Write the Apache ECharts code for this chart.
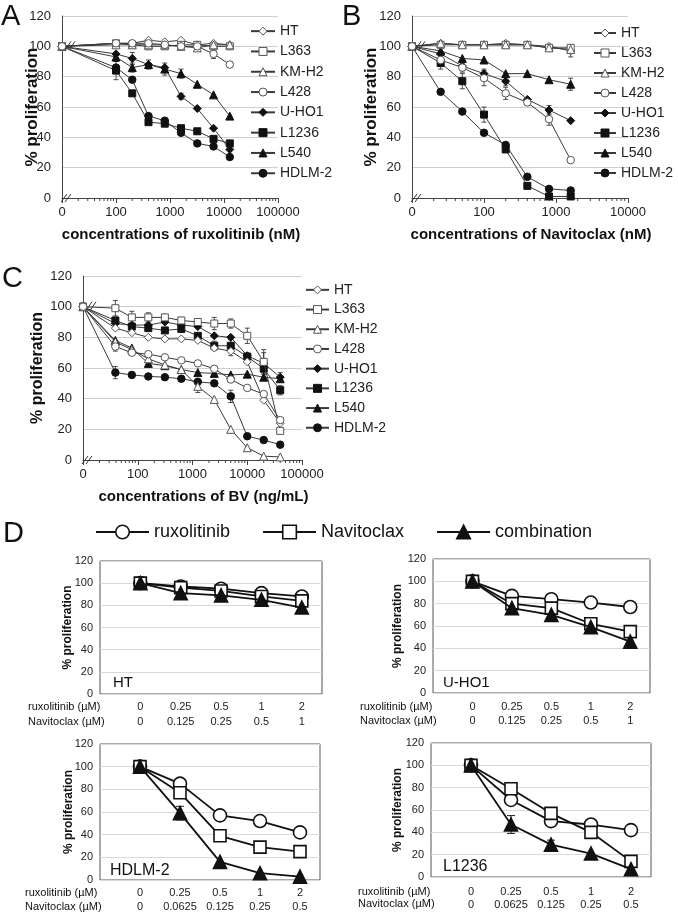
<!DOCTYPE html>
<html><head><meta charset="utf-8">
<script src="https://cdn.jsdelivr.net/npm/echarts@6/dist/echarts.min.js"></script>
<style>html,body{margin:0;padding:0;background:#fff}#c{width:678px;height:915px}</style>
</head><body><div id="c"></div>
<script>
// ---------- DATA ----------
const cellLines = ['HT','L363','KM-H2','L428','U-HO1','L1236','L540','HDLM-2'];
const tickLabelsLog = ['0','100','1000','10000','100000'];

// Panel A: ruxolitinib (nM)
const concA = [0, 100, 200, 400, 800, 1600, 3200, 6400, 12800];
const A_HT    = [100, 102, 102, 104, 103, 104, 101, 102, 101];
const A_L363  = [100, 102, 101, 100, 100, 101, 101, 100, 100];
const A_KMH2  = [100, 101, 101, 101, 101, 100, 99, 101, 101];
const A_L428  = [100, 102, 102, 102, 101, 100, 100, 95, 88];
const A_UHO1  = [100, 95, 92, 88, 86, 67, 59, 46, 32];
const A_L1236 = [100, 84, 69, 50, 49, 46, 44, 39, 36];
const A_L540  = [100, 93, 86, 88, 85, 82, 75, 68, 54];
const A_HDLM2 = [100, 86, 78, 54, 51, 43, 36, 34, 27];
const errA_L428  = [0, 0, 0, 0, 0, 0, 0, 3, 2];
const errA_UHO1  = [0, 0, 4, 0, 0, 2, 0, 0, 0];
const errA_L1236 = [0, 6, 0, 0, 0, 0, 0, 0, 0];
const errA_L540  = [0, 3, 3, 3, 4, 3, 0, 0, 0];

// Panel B: Navitoclax (nM)
const concB = [0, 25, 50, 100, 200, 400, 800, 1600];
const B_HT    = [100, 102, 101, 101, 102, 101, 100, 97];
const B_L363  = [100, 101, 101, 101, 101, 101, 99, 99];
const B_KMH2  = [100, 102, 101, 101, 101, 101, 99, 98];
const B_L428  = [100, 91, 86, 79, 69, 63, 52, 25];
const B_UHO1  = [100, 95, 87, 82, 77, 65, 58, 51];
const B_L1236 = [100, 89, 77, 55, 32, 8, 1, 1];
const B_L540  = [100, 97, 92, 91, 82, 82, 78, 75];
const B_HDLM2 = [100, 70, 57, 43, 35, 14, 6, 5];
const errB_HT    = [0, 0, 0, 0, 0, 0, 0, 4];
const errB_L428  = [0, 3, 3, 5, 4, 0, 4, 0];
const errB_UHO1  = [0, 0, 0, 3, 3, 0, 3, 0];
const errB_L1236 = [0, 4, 5, 5, 0, 0, 0, 0];
const errB_L540  = [0, 0, 0, 0, 0, 0, 0, 4];
const errB_HDLM2 = [0, 0, 2, 0, 0, 0, 0, 0];

// Panel C: BV (ng/mL)
const concC = [0, 39, 78, 156, 313, 625, 1250, 2500, 5000, 10000, 20000, 40000];
const C_HT    = [100, 86, 83, 80, 79, 79, 78, 73, 71, 64, 39, 24];
const C_L363  = [100, 99, 93, 93, 93, 91, 90, 89, 89, 81, 64, 19];
const C_KMH2  = [100, 77, 72, 66, 62, 59, 48, 39.5, 20, 8, 2.5, 2];
const C_L428  = [100, 74, 70, 69, 67, 65, 63, 59.5, 52.5, 47, 43, 26];
const C_UHO1  = [100, 89, 88, 88, 90, 88, 87, 81, 80, 68, 63, 54];
const C_L1236 = [100, 91, 87, 86, 84.5, 85.5, 81, 74.5, 74.5, 67.5, 59.5, 45.5];
const C_L540  = [100, 78, 73, 63, 61.5, 59, 57, 56.5, 55.5, 56, 54, 53];
const C_HDLM2 = [100, 57, 55.5, 54.5, 54, 53, 51, 50, 41.5, 15.5, 13, 10];
const errC_HT    = [0, 0, 0, 0, 0, 0, 0, 0, 3, 0, 0, 0];
const errC_L363  = [0, 5, 4, 3, 2, 2, 2, 4, 3, 5, 8, 0];
const errC_KMH2  = [0, 0, 0, 0, 0, 0, 4, 0, 0, 0, 0, 0];
const errC_L428  = [0, 3, 0, 0, 0, 0, 0, 0, 0, 0, 0, 0];
const errC_UHO1  = [0, 0, 5, 0, 0, 0, 0, 0, 0, 0, 7, 3];
const errC_L1236 = [0, 0, 0, 0, 0, 0, 0, 3, 4, 0, 0, 3];
const errC_HDLM2 = [0, 4, 0, 0, 0, 0, 0, 0, 4, 0, 0, 0];

// Panel D
const dTreatments = ['ruxolitinib', 'Navitoclax', 'combination'];
const dRux   = ['0', '0.25', '0.5', '1', '2'];
const dNavi1 = ['0', '0.125', '0.25', '0.5', '1'];
const dNavi2 = ['0', '0.0625', '0.125', '0.25', '0.5'];
const HT_rux    = [100, 97, 95, 91, 88];
const HT_navi   = [100, 96, 93, 88, 84];
const HT_comb   = [100, 91, 89, 85, 78];
const UHO1_rux  = [100, 87, 84, 81, 77];
const UHO1_navi = [100, 80, 76, 62, 55];
const UHO1_comb = [100, 76, 70, 59, 46];
const HDLM2_rux  = [100, 85, 57, 52, 42];
const HDLM2_navi = [100, 77, 39, 29, 25];
const HDLM2_comb = [100, 59, 16, 6, 3];
const L1236_rux  = [100, 69, 50, 47, 42];
const L1236_navi = [100, 79, 57, 40, 14];
const L1236_comb = [100, 47, 29, 21, 7];
const errHDLM2_rux  = [0, 0, 0, 0, 4];
const errHDLM2_navi = [0, 0, 0, 0, 4];
const errHDLM2_comb = [0, 6, 0, 0, 0];
const errL1236_comb = [0, 8, 4, 0, 0];

// ---------- BUILD ----------
const FONT = '"Liberation Sans", Arial, sans-serif';
const LOG_ZERO = 10; // axis origin used for the "0" concentration
const STYLE = {
  'HT':     {symbol: 'diamond',  open: true,  size: 8},
  'L363':   {symbol: 'rect',     open: true,  size: 7},
  'KM-H2':  {symbol: 'triangle', open: true,  size: 8},
  'L428':   {symbol: 'circle',   open: true,  size: 7.5},
  'U-HO1':  {symbol: 'diamond',  open: false, size: 8},
  'L1236':  {symbol: 'rect',     open: false, size: 7},
  'L540':   {symbol: 'triangle', open: false, size: 8},
  'HDLM-2': {symbol: 'circle',   open: false, size: 7.5}
};
const panelA = [A_HT, A_L363, A_KMH2, A_L428, A_UHO1, A_L1236, A_L540, A_HDLM2];
const panelB = [B_HT, B_L363, B_KMH2, B_L428, B_UHO1, B_L1236, B_L540, B_HDLM2];
const panelC = [C_HT, C_L363, C_KMH2, C_L428, C_UHO1, C_L1236, C_L540, C_HDLM2];
const errsA = {'L428': errA_L428, 'U-HO1': errA_UHO1, 'L1236': errA_L1236, 'L540': errA_L540};
const errsB = {'HT': errB_HT, 'L428': errB_L428, 'U-HO1': errB_UHO1, 'L1236': errB_L1236, 'L540': errB_L540, 'HDLM-2': errB_HDLM2};
const errsC = {'HT': errC_HT, 'L363': errC_L363, 'KM-H2': errC_KMH2, 'L428': errC_L428, 'U-HO1': errC_UHO1, 'L1236': errC_L1236, 'HDLM-2': errC_HDLM2};

function errSeries(gi, xs, vals, errs, capW, lw) {
  const data = [];
  xs.forEach((x, i) => { if (errs[i]) data.push([x, vals[i], errs[i]]); });
  return {
    type: 'custom', xAxisIndex: gi, yAxisIndex: gi, data, z: 1, silent: true, animation: false,
    encode: {x: 0, y: 1},
    renderItem(params, api) {
      const x = api.value(0), y = api.value(1), e = api.value(2);
      const p1 = api.coord([x, y + e]), p2 = api.coord([x, y - e]);
      const st = {stroke: '#222', lineWidth: lw};
      return {type: 'group', children: [
        {type: 'line', shape: {x1: p1[0], y1: p1[1], x2: p2[0], y2: p2[1]}, style: st},
        {type: 'line', shape: {x1: p1[0] - capW, y1: p1[1], x2: p1[0] + capW, y2: p1[1]}, style: st},
        {type: 'line', shape: {x1: p2[0] - capW, y1: p2[1], x2: p2[0] + capW, y2: p2[1]}, style: st}
      ]};
    }
  };
}

const series = [];
function addCellPanel(gi, conc, values, errs) {
  const xs = conc.map(c => c === 0 ? LOG_ZERO : c);
  cellLines.forEach((name, k) => {
    const st = STYLE[name];
    if (errs[name]) series.push(errSeries(gi, xs, values[k], errs[name], 2.5, 0.8));
    series.push({
      type: 'line', name, xAxisIndex: gi, yAxisIndex: gi, animation: false,
      data: xs.map((x, i) => [x, values[k][i]]),
      symbol: st.symbol, symbolSize: st.size, showSymbol: true,
      lineStyle: {color: '#3a3a3a', width: 1},
      itemStyle: {color: st.open ? '#fff' : '#111', borderColor: st.open ? '#555' : '#111', borderWidth: 1},
      z: st.open ? 4 : 3
    });
  });
}
addCellPanel(0, concA, panelA, errsA);
addCellPanel(1, concB, panelB, errsB);
addCellPanel(2, concC, panelC, errsC);

const DSTYLE = [
  {symbol: 'circle', open: true, size: 13},
  {symbol: 'rect', open: true, size: 12},
  {symbol: 'triangle', open: false, size: 13}
];
const dPanels = [
  {vals: [HT_rux, HT_navi, HT_comb], errs: [null, null, null]},
  {vals: [UHO1_rux, UHO1_navi, UHO1_comb], errs: [null, null, null]},
  {vals: [HDLM2_rux, HDLM2_navi, HDLM2_comb], errs: [errHDLM2_rux, errHDLM2_navi, errHDLM2_comb]},
  {vals: [L1236_rux, L1236_navi, L1236_comb], errs: [null, null, errL1236_comb]}
];
dPanels.forEach((p, j) => {
  const gi = 3 + j;
  const xs = dRux.map((_, i) => i);
  dTreatments.forEach((name, k) => {
    const st = DSTYLE[k];
    if (p.errs[k]) series.push(errSeries(gi, xs, p.vals[k], p.errs[k], 4, 1));
    series.push({
      type: 'line', name, xAxisIndex: gi, yAxisIndex: gi, animation: false,
      data: xs.map(i => [i, p.vals[k][i]]),
      symbol: st.symbol, symbolSize: st.size, showSymbol: true,
      lineStyle: {color: '#111', width: 1.8},
      itemStyle: {color: st.open ? '#fff' : '#111', borderColor: '#111', borderWidth: 1.6},
      z: 3 + k
    });
  });
});

const grids = [
  {left: 62, top: 16, width: 216, height: 182},
  {left: 412, top: 16, width: 216, height: 182},
  {left: 83, top: 276, width: 219, height: 184},
  {left: 100, top: 561, width: 222, height: 133, show: true, borderColor: '#555', borderWidth: 1},
  {left: 433, top: 559, width: 217, height: 134, show: true, borderColor: '#555', borderWidth: 1},
  {left: 100, top: 744, width: 220, height: 136, show: true, borderColor: '#555', borderWidth: 1},
  {left: 431, top: 743, width: 220, height: 134, show: true, borderColor: '#555', borderWidth: 1}
].map(g => Object.assign({containLabel: false, outerBoundsMode: 'none'}, g));

const xTitles = ['concentrations of ruxolitinib (nM)', 'concentrations of Navitoclax (nM)', 'concentrations of BV (ng/mL)'];
const logMax = [100000, 10000, 100000];
const xAxes = [];
const yAxes = [];
const yNameGap = [21.5, 32.5, 37];
for (let gi = 0; gi < 3; gi++) {
  xAxes.push({
    type: 'log', gridIndex: gi, logBase: 10, min: LOG_ZERO, max: logMax[gi],
    axisLine: {show: true, lineStyle: {color: '#444', width: 1}},
    axisTick: {show: true, length: 5, lineStyle: {color: '#444'}},
    splitLine: {show: false},
    axisLabel: {fontSize: 13, color: '#222', fontFamily: FONT, margin: 8,
      formatter: v => Math.round(v) <= LOG_ZERO ? tickLabelsLog[0] : String(Math.round(v))},
    name: xTitles[gi], nameLocation: 'middle', nameGap: 29, nameMoveOverlap: false,
    nameTextStyle: {fontSize: 15, fontWeight: 'bold', color: '#111', fontFamily: FONT, padding: [0, 0, 0, 22]}
  });
  yAxes.push({
    type: 'value', gridIndex: gi, min: 0, max: 120, interval: 20,
    axisLine: {show: true, lineStyle: {color: '#444', width: 1}},
    axisTick: {show: false},
    splitLine: {lineStyle: {color: '#cfcfcf', width: 1}},
    axisLabel: {fontSize: 13, color: '#222', fontFamily: FONT, margin: 11},
    name: '% proliferation', nameLocation: 'middle', nameGap: yNameGap[gi], nameMoveOverlap: false,
    nameTextStyle: {fontSize: gi === 2 ? 16 : 17, fontWeight: 'bold', color: '#111', fontFamily: FONT}
  });
}
const dNavis = [dNavi1, dNavi1, dNavi2, dNavi2];
const dLabelCfg = [
  {lh: 15, margin: 5}, {lh: 14, margin: 7}, {lh: 14, margin: 6}, {lh: 12.5, margin: 9}
];
const dYGap = [26.5, 29, 25, 27];
for (let j = 0; j < 4; j++) {
  const gi = 3 + j;
  xAxes.push({
    type: 'value', gridIndex: gi, min: -1, max: 4.5,
    axisLine: {show: false}, axisTick: {show: false}, splitLine: {show: false},
    axisLabel: {customValues: [0, 1, 2, 3, 4], fontSize: 11, color: '#222', fontFamily: FONT,
      lineHeight: dLabelCfg[j].lh, margin: dLabelCfg[j].margin,
      formatter: v => dRux[v] + '\n' + dNavis[j][v]}
  });
  yAxes.push({
    type: 'value', gridIndex: gi, min: 0, max: 120, interval: 20,
    axisLine: {show: false}, axisTick: {show: false},
    splitLine: {lineStyle: {color: '#d9d9d9', width: 1}},
    axisLabel: {fontSize: 11, color: '#222', fontFamily: FONT, margin: 7},
    name: '% proliferation', nameLocation: 'middle', nameGap: dYGap[j], nameMoveOverlap: false,
    nameTextStyle: {fontSize: 12, fontWeight: 'bold', color: '#111', fontFamily: FONT}
  });
}

function cellLegend(left, top, itemWidth, lineHeight) {
  return {
    data: cellLines, orient: 'vertical', left, top, itemWidth, itemHeight: 10, itemGap: 0, padding: 0,
    selectedMode: false,
    itemStyle: {borderWidth: 1},
    textStyle: {fontSize: 14, color: '#222', fontFamily: FONT, lineHeight}
  };
}
const legends = [
  cellLegend(250, 21, 24, 20.3),
  cellLegend(593, 23, 22, 20),
  cellLegend(305, 280, 23, 19.7),
  {data: dTreatments, orient: 'horizontal', left: 95, top: 523, itemWidth: 53, itemHeight: 17, itemGap: 32, padding: 0,
   selectedMode: false, itemStyle: {borderWidth: 1.6},
   textStyle: {fontSize: 18, color: '#111', fontFamily: FONT}}
];

const staticGraphics = [];
function txt(x, y, s, size) {
  staticGraphics.push({type: 'text', x, y, silent: true,
    style: {text: s, fontSize: size, fontFamily: FONT, fill: '#111', verticalAlign: 'middle', align: 'left'}});
}
txt(1, 17, 'A', 29); txt(342, 17, 'B', 29); txt(2, 279, 'C', 29); txt(3, 534, 'D', 29);
const dNames = ['HT', 'U-HO1', 'HDLM-2', 'L1236'];
const dNamePos = [[113, 683, 15], [443, 683, 15], [110, 871, 16], [443, 867, 16]];
dNames.forEach((n, j) => txt(dNamePos[j][0], dNamePos[j][1], n, dNamePos[j][2]));
const rowHead = [[28, 707, 722], [360, 707, 721], [25, 893, 907], [358, 892, 904]];
rowHead.forEach(r => { txt(r[0], r[1], 'ruxolitinib (µM)', 11); txt(r[0], r[2], 'Navitoclax (µM)', 11); });

const chart = echarts.init(document.getElementById('c'), null, {renderer: 'canvas'});
const option = {
  backgroundColor: '#fff', animation: false,
  grid: grids, xAxis: xAxes, yAxis: yAxes, legend: legends, series,
  graphic: staticGraphics
};
chart.setOption(option);

// axis decorations: minor log ticks and break marks
const deco = staticGraphics.slice();
for (let gi = 0; gi < 3; gi++) {
  for (let d = LOG_ZERO; d < logMax[gi]; d *= 10) {
    for (let k = 2; k <= 9; k++) {
      const p = chart.convertToPixel({gridIndex: gi}, [k * d, 0]);
      deco.push({type: 'line', silent: true, shape: {x1: p[0], y1: p[1], x2: p[0], y2: p[1] + 3}, style: {stroke: '#444', lineWidth: 1}});
    }
  }
  const o = chart.convertToPixel({gridIndex: gi}, [LOG_ZERO, 0]);
  const t = chart.convertToPixel({gridIndex: gi}, [LOG_ZERO, 100]);
  [0, 4].forEach(dx => {
    deco.push({type: 'line', silent: true, z: 10, shape: {x1: o[0] - 1 + dx, y1: o[1] + 4, x2: o[0] + 5 + dx, y2: o[1] - 4}, style: {stroke: '#333', lineWidth: 1}});
    deco.push({type: 'line', silent: true, z: 10, shape: {x1: t[0] + 3 + dx, y1: t[1] + 4, x2: t[0] + 9 + dx, y2: t[1] - 5}, style: {stroke: '#333', lineWidth: 1}});
  });
}
chart.setOption({graphic: deco}, {replaceMerge: ['graphic']});
</script></body></html>
